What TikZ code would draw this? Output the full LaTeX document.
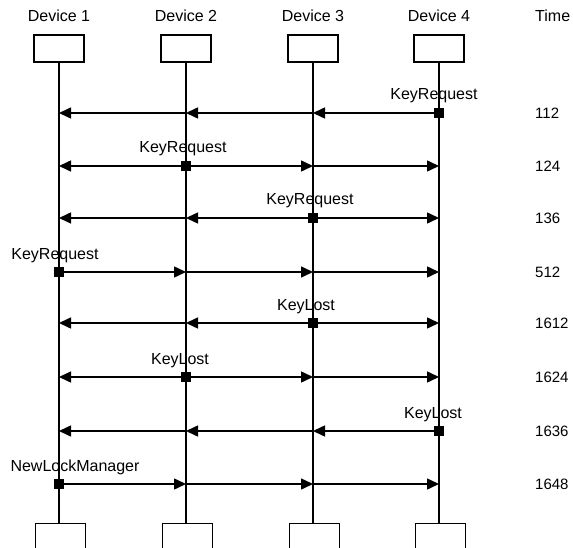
\documentclass[tikz,border=0pt]{standalone}
\usepackage{fontspec}
\setmainfont{Liberation Sans}
\usetikzlibrary{arrows.meta}
\begin{document}
\begin{tikzpicture}[x=1pt,y=-1pt,
  box/.style={draw, line width=1.4pt, minimum width=50pt, minimum height=27pt, inner sep=0pt},
  life/.style={line width=1.1pt},
  msg/.style={line width=1.5pt, -{Triangle[length=12pt,width=11pt]}},
  sq/.style={fill=black, minimum size=10.5pt, inner sep=0pt},
  lbl/.style={font=\fontsize{16}{19}\selectfont, anchor=base, inner sep=0pt},
  hdr/.style={font=\fontsize{16}{19}\selectfont, anchor=base, inner sep=0pt},
  tm/.style={font=\fontsize{15}{18}\selectfont, anchor=west, inner sep=0pt}]
\useasboundingbox (0,0) rectangle (573,548);
% headers
\foreach \i/\x in {1/59,2/186,3/313,4/439}{
  \node[hdr] (h\i) at (\x,22) {Device \i};
  \node[box] (t\i) at (\x,48.5) {};
  \node[box] (b\i) at (\x+1.5,537) {};
  \draw[life] (t\i.south) -- (t\i.south |- b\i.north);
}
\node[hdr, anchor=base west] (time) at (535,22) {Time};
% row coordinates
\foreach \r/\y in {1/113,2/166,3/218,4/272,5/323,6/377,7/431,8/484}{
  \foreach \i/\x in {1/59,2/186,3/313,4/439}{
    \coordinate (d\i r\r) at (\x,\y);
  }
}
% time labels
\foreach \r/\t in {1/112,2/124,3/136,4/512,5/1612,6/1624,7/1636,8/1648}{
  \node[tm] (tm\r) at (535,0 |- d1r\r) {\t};
}
% row 1: sender 4
\draw[msg] (d4r1) -- (d3r1); \draw[msg] (d3r1) -- (d2r1); \draw[msg] (d2r1) -- (d1r1);
% row 2: sender 2
\draw[msg] (d2r2) -- (d1r2); \draw[msg] (d2r2) -- (d3r2); \draw[msg] (d3r2) -- (d4r2);
% row 3: sender 3
\draw[msg] (d3r3) -- (d2r3); \draw[msg] (d2r3) -- (d1r3); \draw[msg] (d3r3) -- (d4r3);
% row 4: sender 1
\draw[msg] (d1r4) -- (d2r4); \draw[msg] (d2r4) -- (d3r4); \draw[msg] (d3r4) -- (d4r4);
% row 5: sender 3
\draw[msg] (d3r5) -- (d2r5); \draw[msg] (d2r5) -- (d1r5); \draw[msg] (d3r5) -- (d4r5);
% row 6: sender 2
\draw[msg] (d2r6) -- (d1r6); \draw[msg] (d2r6) -- (d3r6); \draw[msg] (d3r6) -- (d4r6);
% row 7: sender 4
\draw[msg] (d4r7) -- (d3r7); \draw[msg] (d3r7) -- (d2r7); \draw[msg] (d2r7) -- (d1r7);
% row 8: sender 1
\draw[msg] (d1r8) -- (d2r8); \draw[msg] (d2r8) -- (d3r8); \draw[msg] (d3r8) -- (d4r8);
% senders
\foreach \r/\s/\dx/\txt in {1/4/-5/KeyRequest,2/2/-3/KeyRequest,3/3/-3/KeyRequest,4/1/-4/KeyRequest,
  5/3/-7/KeyLost,6/2/-6/KeyLost,7/4/-6/KeyLost,8/1/16/NewLockManager}{
  \node[sq] (s\r) at (d\s r\r) {};
  \node[lbl] (l\r) at ([xshift=\dx pt, yshift=13pt]s\r.center) {\txt};
}
\end{tikzpicture}
\end{document}
